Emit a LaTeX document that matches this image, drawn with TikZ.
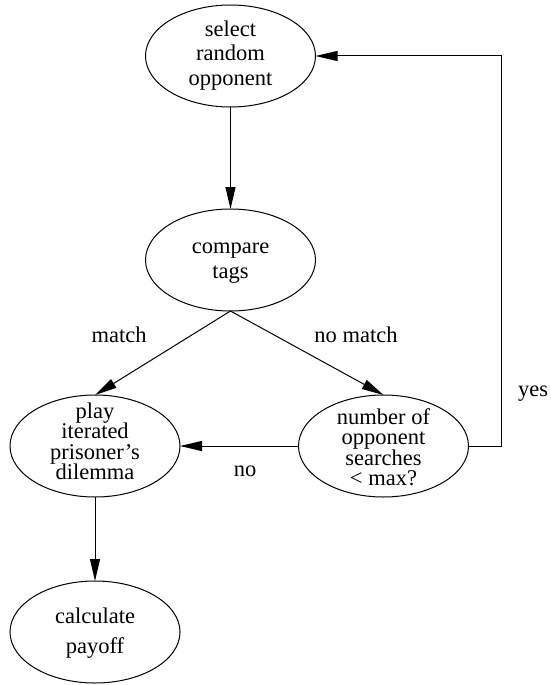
\documentclass[tikz,border=0pt]{standalone}
\usepackage{fontspec}
\setmainfont{Liberation Serif}
\usetikzlibrary{shapes.geometric,arrows.meta}
\lineskiplimit=-\maxdimen
\newcommand{\mystrut}{\rule[-16pt]{0pt}{32pt}}
\begin{document}
\begin{tikzpicture}[x=1pt,y=-1pt,
  ell/.style={ellipse, draw, line width=1pt, minimum width=170pt, minimum height=102pt, inner sep=0pt, outer sep=0pt},
  txt/.style={align=center, inner sep=0pt},
  lbl/.style={anchor=base, inner sep=0pt, font=\fontsize{22.5}{27}\selectfont},
  arr/.style={line width=1pt, -{Triangle[length=22pt,width=10pt]}}]
\useasboundingbox (0,0) rectangle (550,685);

\node[ell] (n1) at (230.5,56) {};
\node[ell] (n2) at (230.5,260) {};
\node[ell] (n3) at (95,446) {};
\node[ell] (n4) at (383.5,446) {};
\node[ell] (n5) at (95,632) {};

\node[txt, font=\fontsize{22.5}{24.5}\selectfont] (t1) at (230.5,60.5) {\mystrut select\\\mystrut random\\\mystrut opponent};
\node[txt, font=\fontsize{22.5}{25}\selectfont] (t2) at (230.5,265.5) {\mystrut compare\\\mystrut tags};
\node[txt, font=\fontsize{22.5}{20.5}\selectfont] (t3) at (95,449) {\mystrut play\\\mystrut iterated\\\mystrut prisoner’s\\\mystrut dilemma};
\node[txt, font=\fontsize{22.5}{20.5}\selectfont] (t4) at (383.5,455) {\mystrut number of\\\mystrut opponent\\\mystrut searches\\\mystrut < max?};
\node[txt, font=\fontsize{22.5}{30}\selectfont] (t5) at (95,638) {\mystrut calculate\\\mystrut payoff};

\node[lbl] (lmatch) at (119,342) {match};
\node[lbl] (lnomatch) at (356,342) {no match};
\node[lbl] (lyes) at (533,396) {yes};
\node[lbl] (lno) at (245,476) {no};

\coordinate (cr) at (501,446);

\draw[arr] (n1.south) -- (n2.north);
\draw[arr] (n2.south) -- (n3.north);
\draw[arr] (n2.south) -- (n4.north);
\draw[arr] (n4.west) -- (n3.east);
\draw[arr] (n3.south) -- (n5.north);
\draw[arr] (n4.east) -- (cr) |- (n1.east);
\end{tikzpicture}
\end{document}
